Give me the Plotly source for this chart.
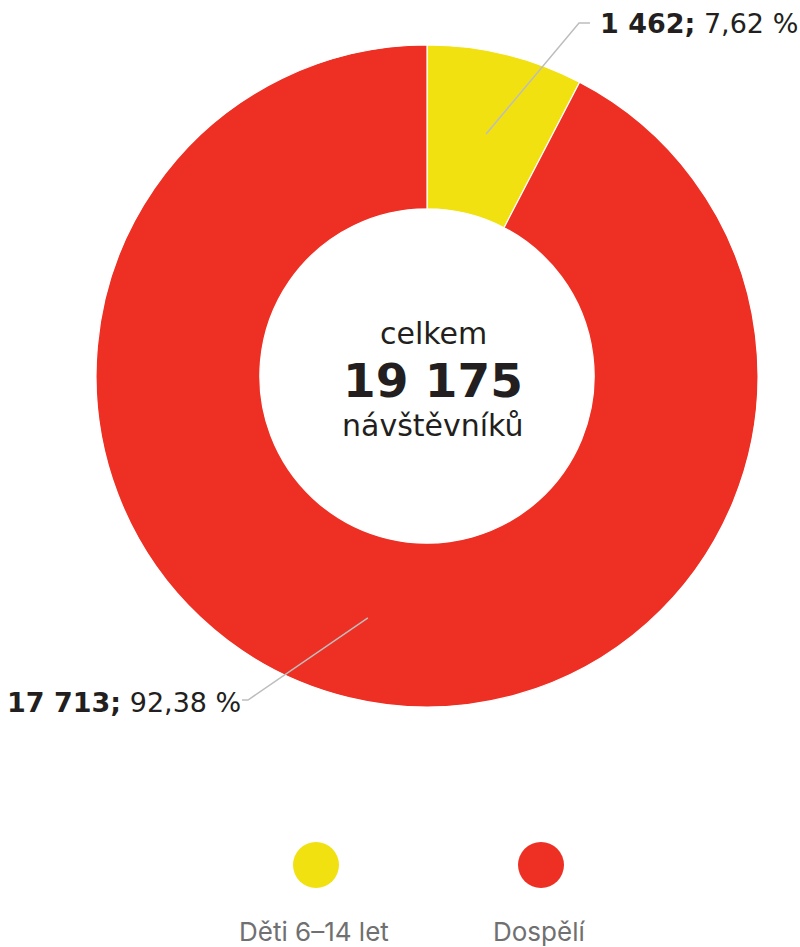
import math
import plotly.graph_objects as go

# ---- data ----
categories = ["Děti 6–14 let", "Dospělí"]
values = [1462, 17713]
colors = ["#F1E111", "#EE2F24"]
center_top = "celkem"
center_bottom = "návštěvníků"

W, H = 800, 947
CX, CY, R = 427, 376, 331   # pie centre/radius in pixels
HOLE = 0.505

total = sum(values)


def fmt_int(v):
    return f"{v:,}".replace(",", " ")


def fmt_pct(p):
    return f"{p:.2f}".replace(".", ",")


def px(x):
    return x / W


def py(y):
    return 1 - y / H


fig = go.Figure()
fig.add_trace(go.Pie(
    labels=categories, values=values, sort=False, direction="clockwise",
    rotation=0, hole=HOLE, textinfo="none", showlegend=False,
    marker=dict(colors=colors, line=dict(color="white", width=1.2)),
    domain=dict(x=[px(CX - R), px(CX + R)], y=[py(CY + R), py(CY - R)]),
))

# ---- outside labels with leader lines ----
label_layout = [
    dict(elbow=(579, 23), end=(590, 23), tx=598, ty=24, xanchor="left"),
    dict(elbow=(248, 700), end=(242, 700), tx=243, ty=702, xanchor="right"),
]
shapes = []
annotations = []
cum = 0
r_mid = R * (1 + HOLE) / 2
for v, lay in zip(values, label_layout):
    mid = (cum + v / 2) / total * 2 * math.pi
    cum += v
    sx = CX + r_mid * math.sin(mid)
    sy = CY - r_mid * math.cos(mid)
    ex, ey = lay["elbow"]
    fx, fy = lay["end"]
    shapes.append(dict(
        type="path", xref="paper", yref="paper",
        path=f"M {px(sx)} {py(sy)} L {px(ex)} {py(ey)} L {px(fx)} {py(fy)}",
        line=dict(color="#BDBDBD", width=1.5),
    ))
    annotations.append(dict(
        x=px(lay["tx"]), y=py(lay["ty"]), xref="paper", yref="paper",
        xanchor=lay["xanchor"], yanchor="middle", showarrow=False,
        text=f"<b>{fmt_int(v)};</b> {fmt_pct(v / total * 100)} %",
        font=dict(family="DejaVu Sans", size=27, color="#231F20"),
    ))

# ---- centre text ----
center_font = dict(family="DejaVu Sans", size=30, color="#231F20")
annotations += [
    dict(x=px(CX + 6), y=py(333), xref="paper", yref="paper", showarrow=False,
         xanchor="center", yanchor="middle", text=center_top, font=center_font),
    dict(x=px(CX + 6), y=py(380), xref="paper", yref="paper", showarrow=False,
         xanchor="center", yanchor="middle", text=f"<b>{fmt_int(total)}</b>",
         font=dict(family="DejaVu Sans", size=47, color="#231F20")),
    dict(x=px(CX + 6), y=py(425), xref="paper", yref="paper", showarrow=False,
         xanchor="center", yanchor="middle", text=center_bottom, font=center_font),
]

# ---- custom legend ----
legend_x = [316, 541]
for cat, col, lx in zip(categories, colors, legend_x):
    rr = 23
    shapes.append(dict(type="circle", xref="paper", yref="paper",
                       x0=px(lx - rr), x1=px(lx + rr), y0=py(865 + rr), y1=py(865 - rr),
                       fillcolor=col, line=dict(width=0)))
    annotations.append(dict(x=px(lx - 2), y=py(931), xref="paper", yref="paper",
                            xanchor="center", yanchor="middle",
                            showarrow=False, text=cat,
                            font=dict(family="Inter", size=26, color="#707070")))

fig.update_layout(
    width=W, height=H, margin=dict(l=0, r=0, t=0, b=0),
    paper_bgcolor="white", plot_bgcolor="white",
    shapes=shapes, annotations=annotations,
)
fig.write_html("out.html", config={"displayModeBar": False},
               post_script="document.body.style.margin='0';document.body.style.overflow='hidden';")
